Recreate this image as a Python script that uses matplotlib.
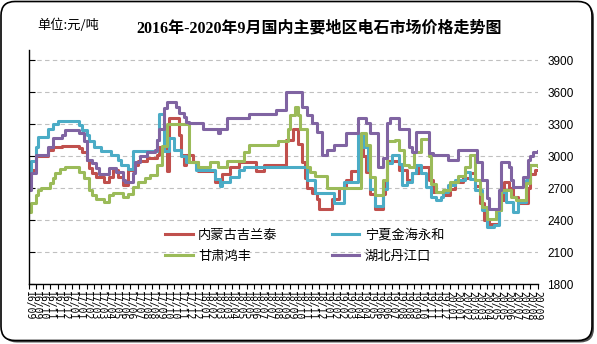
import matplotlib.pyplot as plt
from matplotlib.patches import FancyBboxPatch
import pandas as pd

# weekly quotes, 2016-09 .. 2020-09 ; each series stored as (week index, price) change points
weeks = pd.date_range('2016-09-02', periods=211, freq='7D')
tick_idx = list(range(0, 211, 3))
tick_labels = [weeks[i].strftime('%y/%m') for i in tick_idx]

yticks = [1800, 2100, 2400, 2700, 3000, 3300, 3600, 3900]

names = ['内蒙古吉兰泰', '宁夏金海永和', '甘肃鸿丰', '湖北丹江口']
colors = ['#C0504D', '#4BACC6', '#9BBB59', '#8064A2']

nm_idx = [0, 1, 3, 8, 10, 14, 21, 22, 24, 25, 26, 28, 31, 33, 35, 37, 39, 41, 43, 45,
          49, 53, 54, 57, 58, 62, 63, 64, 65, 68, 70, 77, 80, 83, 87, 94, 97, 106, 109,
          111, 113, 114, 115, 117, 119, 120, 125, 128, 131, 133, 137, 138, 139, 141, 143,
          146, 147, 148, 153, 156, 158, 161, 165, 167, 171, 174, 176, 179, 182, 184, 186,
          188, 190, 194, 196, 198, 200, 202, 206, 207, 209, 210]
nm_val = [2800, 2870, 3000, 3060, 3090, 3100, 3080, 3045, 2965, 2890, 2840, 2810, 2760,
          2810, 2870, 2810, 2730, 2870, 2920, 2960, 2980, 3010, 3090, 2860, 3360, 3200,
          3010, 2920, 3010, 2950, 2860, 2760, 2830, 2900, 2950, 2860, 2920, 3150, 3260,
          3120, 2950, 2800, 2700, 2660, 2600, 2510, 2600, 2700, 2780, 2860, 3170, 3000,
          2850, 2650, 2510, 2650, 2780, 2960, 2870, 2780, 2840, 2900, 2780, 2670, 2640,
          2690, 2760, 2800, 2840, 2720, 2560, 2400, 2370, 2590, 2760, 2700, 2620, 2560,
          2700, 2830, 2870, 2870]

nx_idx = [0, 1, 3, 4, 8, 10, 12, 21, 22, 24, 25, 27, 30, 34, 37, 38, 41, 43, 53, 54, 56,
          58, 60, 63, 65, 69, 77, 79, 80, 83, 87, 89, 115, 118, 126, 130, 136, 138, 140,
          141, 143, 146, 148, 150, 153, 154, 156, 158, 160, 162, 164, 166, 168, 170, 171,
          173, 176, 180, 182, 184, 187, 189, 192, 194, 195, 197, 200, 202, 205, 207, 210]
nx_val = [2830, 2960, 3090, 3180, 3260, 3300, 3330, 3290, 3250, 3200, 3140, 3090, 3050,
          3010, 2970, 2920, 2880, 3050, 3150, 3400, 3050, 3170, 3060, 3000, 2950, 2870,
          2790, 2720, 2760, 2810, 2870, 2900, 2780, 2660, 2565, 2760, 3200, 3090, 2870,
          2690, 2530, 2690, 2935, 3010, 2930, 2730, 2760, 2840, 2915, 2840, 2710, 2620,
          2590, 2620, 2665, 2730, 2775, 2850, 2790, 2680, 2495, 2340, 2355, 2495, 2665,
          2570, 2480, 2570, 2775, 2915, 2920]

gs_idx = [0, 1, 3, 4, 5, 9, 10, 11, 13, 15, 21, 23, 25, 26, 28, 31, 33, 35, 39, 41, 43,
          45, 48, 50, 53, 55, 57, 66, 70, 75, 78, 82, 89, 91, 103, 107, 108, 110, 111, 112,
          115, 116, 118, 123, 137, 139, 141, 143, 146, 148, 151, 153, 155, 157, 159, 162,
          165, 166, 168, 171, 174, 177, 180, 182, 184, 186, 187, 189, 193, 195, 199, 201,
          205, 207, 210]
gs_val = [2480, 2560, 2640, 2685, 2700, 2750, 2795, 2840, 2880, 2900, 2855, 2795, 2685,
          2640, 2600, 2575, 2640, 2660, 2620, 2650, 2715, 2760, 2795, 2825, 2920, 3100,
          3300, 2950, 2900, 2950, 2900, 2955, 3045, 3105, 3140, 3260, 3390, 3465, 3390,
          3260, 2900, 2855, 2820, 2700, 3215, 3105, 2810, 2640, 2780, 3140, 3150, 3060,
          2920, 2900, 3045, 3165, 3000, 2745, 2665, 2680, 2760, 2820, 2900, 3010, 2775,
          2650, 2525, 2415, 2500, 2680, 2620, 2590, 2750, 2915, 2910]

hb_idx = [0, 1, 3, 8, 10, 14, 15, 21, 23, 24, 26, 28, 29, 33, 36, 39, 40, 43, 44, 46, 49,
          52, 53, 54, 56, 57, 61, 62, 64, 65, 66, 72, 78, 79, 82, 91, 102, 106, 113, 115,
          117, 119, 121, 123, 126, 131, 136, 139, 141, 144, 146, 148, 149, 153, 157, 158,
          160, 165, 167, 173, 177, 185, 187, 189, 190, 194, 195, 198, 199, 200, 204, 206,
          207, 208, 210]
hb_val = [2685, 2840, 3010, 3090, 3170, 3200, 3250, 3215, 3140, 2965, 2935, 2890, 2830,
          2890, 2850, 2780, 2760, 2840, 2950, 3000, 3045, 3060, 3150, 3260, 3450, 3510,
          3465, 3410, 3370, 3325, 3310, 3260, 3215, 3260, 3355, 3400, 3435, 3600, 3465,
          3390, 3310, 3230, 3010, 3060, 3105, 3215, 3355, 3310, 3215, 2900, 2980, 3310,
          3355, 3260, 3090, 3045, 3230, 3030, 3010, 2965, 3060, 2950, 2780, 2605, 2510,
          2685, 2950, 2900, 2780, 2715, 2810, 2965, 3000, 3045, 3050]

series = [(nm_idx, nm_val), (nx_idx, nx_val), (gs_idx, gs_val), (hb_idx, hb_val)]

cjk = ['Noto Sans CJK SC', 'DejaVu Sans']

fig = plt.figure(figsize=(5.97, 3.44), dpi=100)

# rounded frame with a small drop shadow
fig.patches.append(FancyBboxPatch((0.03, 0.015), 5.91, 3.39,
                                  boxstyle='round,pad=0,rounding_size=0.14',
                                  transform=fig.dpi_scale_trans, fc='#505050', ec='none', zorder=-2))
fig.patches.append(FancyBboxPatch((0.01, 0.035), 5.91, 3.39,
                                  boxstyle='round,pad=0,rounding_size=0.14',
                                  transform=fig.dpi_scale_trans, fc='white', ec='black',
                                  lw=1.2, zorder=-1))

ax = fig.add_axes([28.5 / 597, 1 - 284.3 / 344, 509.2 / 597, 234.3 / 344])
ax.set_zorder(5)
ax.patch.set_alpha(0)

lines = []
for (xi, yv), name, c in zip(series, names, colors):
    ln, = ax.step(xi, yv, where='post', color=c, lw=2.2, label=name)
    lines.append(ln)

ax.set_xlim(0, 210)
ax.set_ylim(1800, 3997)
ax.set_yticks(yticks)
ax.set_xticks(tick_idx)
ax.set_xticklabels(tick_labels, rotation=-90, family='DejaVu Sans Mono', fontsize=7)
ax.set_yticklabels([str(v) for v in yticks], family='Liberation Sans', fontsize=8.5)
ax.tick_params(axis='y', direction='in', length=4, left=True, right=False,
               labelleft=False, labelright=True, pad=7)
ax.tick_params(axis='x', direction='out', length=3.5, pad=1.5)
ax.yaxis.grid(True, ls=(0, (4, 3)), color='#C0C0C0', lw=0.8)
ax.set_axisbelow(True)
for s in ['top', 'right']:
    ax.spines[s].set_visible(False)
ax.spines['left'].set_linewidth(1)
ax.spines['bottom'].set_linewidth(1)

# legend fills column-wise: red/green in the first column, blue/purple in the second
order = [0, 2, 1, 3]
ax.legend([lines[i] for i in order], [names[i] for i in order], ncol=2, frameon=False,
          loc='lower left', bbox_to_anchor=(0.245, 0.04),
          prop={'family': cjk, 'size': 9.5}, handlelength=2.1, handletextpad=0.4,
          columnspacing=4.1, labelspacing=0.62)

fig.text(0.534, 0.918, '2016年-2020年9月国内主要地区电石市场价格走势图',
         ha='center', va='center', fontsize=11.5, fontweight='bold',
         family=['Liberation Serif', 'Noto Sans CJK SC'])
fig.text(0.062, 0.927, '单位:元/吨', ha='left', va='center', fontsize=9.5, family=cjk)

fig.savefig('out.png', dpi=100)
